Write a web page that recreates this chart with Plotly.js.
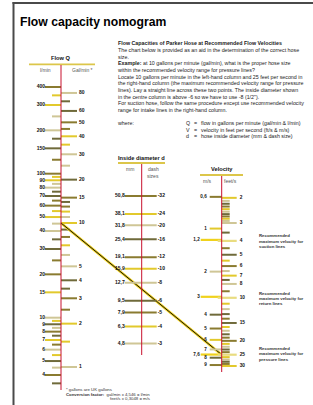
<!DOCTYPE html>
<html><head><meta charset="utf-8">
<script src="https://cdn.plot.ly/plotly-3.0.1.min.js"></script>
<style>html,body{margin:0;padding:0;background:#fff}#chart{width:313px;height:405px}</style>
</head><body><div id="chart"></div>
<script>
// ---------- data ----------
const flowLminLabeled = [400,300,200,150,100,90,80,70,60,50,40,30,20,15,10,9,8,7,6,5,4];
const flowLminMinor   = [350,250,175,125,95,85,75,65,55,45,35,25,9.5,8.5,7.5,6.5,5.5,4.5,3.5];
const flowGalLabeled  = [80,60,50,40,30,20,15,10,5,4,3,2,1];
const flowGalMinor    = [70,45,35,25,14,13,12,11,9,8,7,6,3.5,2.5,1.5];
const diamMm          = [50.8,38.1,31.8,25.4,19.1,15.9,12.7,9.5,7.9,6.3,4.8];
const diamMmLabels    = ['50,8','38,1','31,8','25,4','19,1','15,9','12,7','9,5','7,9','6,3','4,8'];
const diamDash        = ['-32','-24','-20','-16','-12','-10','-8','-6','-5','-4','-3'];
const velMsLabeled    = [0.6,1,1.2,2,3,4,5,6,7,7.6,8,9];
const velMsLabels     = ['0,6','1','1,2','2','3','4','5','6','7','7,6','8','9'];
const velFtsLabeled   = [2,3,4,5,6,7,8,10,15,20,25,30];
const velFtsMinor     = [2.1,2.2,2.3,2.4,2.5,2.6,2.7,2.8,2.9,3.5,4.5,5.5,6.5,7.5,9,11,12,13,14,16,17,18,19,21,22,23,24,26,27,28,29];
const recommendedMs   = [1.2,3,7.6];
const recommendedFts  = [4,10,25];
const exampleGal = 10;      // gal/min
const exampleFts = 25;      // feet/s
const GAL_TO_L = 4.546;
const FT_TO_M = 0.3048;

// ---------- axes (log ranges) ----------
const rangeQ = [0.3937, 3.2062];   // l/min
const rangeV = [1.7497, -1.0825];  // feet/s (reversed)
const rangeD = [0.2545, 3.0670];   // mm

const W = 313, H = 405;
const py = p => 1 - p / H;

const XQ = 61, XD = 141.7, XV = 221.7;
const pal = ['#8a7b30', '#e2c92c', '#cfc696', '#6f6a3a'];

const traces = [];
function segs(vals, x0, x1, yaxis, colorOffset, width) {
  const groups = pal.map(() => ({x: [], y: []}));
  vals.forEach((v, i) => {
    const g = groups[(i + colorOffset) % pal.length];
    g.x.push(x0, x1, null); g.y.push(v, v, null);
  });
  groups.forEach((g, k) => {
    if (!g.x.length) return;
    traces.push({type: 'scatter', mode: 'lines', x: g.x, y: g.y, yaxis: yaxis,
      line: {color: pal[k], width: width || 2}, hoverinfo: 'skip', showlegend: false});
  });
}
function labels(vals, txt, x, pos, yaxis, size) {
  traces.push({type: 'scatter', mode: 'text', x: vals.map(() => x), y: vals, text: txt,
    textposition: pos, yaxis: yaxis, cliponaxis: false,
    textfont: {family: 'Liberation Sans, Arial, sans-serif', size: size || 5, color: '#111', weight: 'bold'},
    hoverinfo: 'skip', showlegend: false});
}

// Flow Q column
segs(flowLminLabeled, XQ - 16, XQ, 'y', 0);
segs(flowLminMinor, XQ - 9, XQ, 'y', 1);
segs(flowGalLabeled.map(g => g * GAL_TO_L), XQ, XQ + 16, 'y', 2);
segs(flowGalMinor.map(g => g * GAL_TO_L), XQ, XQ + 9, 'y', 3);
labels(flowLminLabeled, flowLminLabeled.map(String), XQ - 16, 'middle left', 'y');
labels(flowGalLabeled.map(g => g * GAL_TO_L), flowGalLabeled.map(String), XQ + 18, 'middle right', 'y');

// Diameter column
segs(diamMm, XD - 17, XD + 15, 'y3', 0);
labels(diamMm, diamMmLabels, XD - 17, 'middle left', 'y3');
labels(diamMm, diamDash, XD + 16, 'middle right', 'y3');

// Velocity column
const isRec = m => recommendedMs.includes(m);
segs(velMsLabeled.filter(m => !isRec(m)).map(m => m / FT_TO_M), XV - 12, XV, 'y2', 0);
segs(velFtsLabeled.filter(f => !recommendedFts.includes(f)), XV, XV + 15, 'y2', 1);
segs(velFtsMinor, XV, XV + 8, 'y2', 2);
traces.push({type: 'scatter', mode: 'lines', yaxis: 'y2', hoverinfo: 'skip', showlegend: false,
  x: recommendedMs.flatMap(() => [XV - 21, XV, null]),
  y: recommendedMs.flatMap(m => [m / FT_TO_M, m / FT_TO_M, null]),
  line: {color: '#f0d21c', width: 2.2}});
traces.push({type: 'scatter', mode: 'lines', yaxis: 'y2', hoverinfo: 'skip', showlegend: false,
  x: recommendedFts.flatMap(() => [XV - 4, XV + 15, null]),
  y: recommendedFts.flatMap(f => [f, f, null]),
  line: {color: '#e9dc80', width: 2.2}});
const msIdxPlain = velMsLabeled.map((m, i) => i).filter(i => !isRec(velMsLabeled[i]));
const msIdxRec = velMsLabeled.map((m, i) => i).filter(i => isRec(velMsLabeled[i]));
labels(msIdxPlain.map(i => velMsLabeled[i] / FT_TO_M), msIdxPlain.map(i => velMsLabels[i]), XV - 15, 'middle left', 'y2', 4.6);
labels(msIdxRec.map(i => velMsLabeled[i] / FT_TO_M), msIdxRec.map(i => velMsLabels[i]), XV - 22, 'middle left', 'y2', 4.6);
labels(velFtsLabeled, velFtsLabeled.map(String), XV + 18, 'middle right', 'y2', 4.8);

// Example line: from Q (10 gal/min) to V (25 ft/s), expressed on the Q axis
const fracV = (Math.log10(exampleFts) - rangeV[0]) / (rangeV[1] - rangeV[0]);
const qEquiv = Math.pow(10, rangeQ[0] + fracV * (rangeQ[1] - rangeQ[0]));
const exLine = {x: [XQ, XV], y: [exampleGal * GAL_TO_L, qEquiv]};
traces.push({type: 'scatter', mode: 'lines', x: exLine.x, y: exLine.y, yaxis: 'y',
  line: {color: '#f2d21a', width: 2.6}, hoverinfo: 'skip', showlegend: false});
traces.push({type: 'scatter', mode: 'lines', x: exLine.x, y: exLine.y, yaxis: 'y',
  line: {color: '#111', width: 1}, hoverinfo: 'skip', showlegend: false});

// ---------- shapes ----------
const shapes = [
  {type: 'line', xref: 'x', yref: 'paper', x0: 13.5, x1: 13.5, y0: py(2), y1: py(405), line: {color: '#4a4a4a', width: 2}},
  {type: 'line', xref: 'x', yref: 'paper', x0: 12.5, x1: 313, y0: py(3), y1: py(3), line: {color: '#4a4a4a', width: 2}},
  {type: 'line', xref: 'x', yref: 'paper', x0: 29, x1: 95, y0: py(64.3), y1: py(64.3), line: {color: '#dcc64a', width: 1.8}},
  {type: 'line', xref: 'x', yref: 'paper', x0: 118, x1: 165, y0: py(163), y1: py(163), line: {color: '#dcc64a', width: 1.8}},
  {type: 'line', xref: 'x', yref: 'paper', x0: 200, x1: 243, y0: py(175), y1: py(175), line: {color: '#dcc64a', width: 1.8}},
  {type: 'line', xref: 'x', yref: 'paper', x0: XQ, x1: XQ, y0: py(65), y1: py(390), line: {color: '#c8102e', width: 1}, layer: 'above'},
  {type: 'line', xref: 'x', yref: 'paper', x0: XD, x1: XD, y0: py(164), y1: py(355), line: {color: '#c8102e', width: 1}, layer: 'above'},
  {type: 'line', xref: 'x', yref: 'paper', x0: XV, x1: XV, y0: py(176), y1: py(372), line: {color: '#c8102e', width: 1}, layer: 'above'}
];

// ---------- annotations ----------
const F = 'Liberation Sans, Arial, sans-serif';
const ann = [];
function A(text, x, y, size, opts) {
  ann.push(Object.assign({text: text, xref: 'x', yref: 'paper', x: x, y: py(y), xanchor: 'left', yanchor: 'middle',
    showarrow: false, borderpad: 0, font: {family: F, size: size, color: '#222'}}, opts || {}));
}
A('<b>Flow capacity nomogram</b>', 19, 22, 12.2, {font: {family: F, size: 12.2, color: '#000'}});
const bodyLines = [
  ['<b>Flow Capacities of Parker Hose at Recommended Flow Velocities</b>', 43.5],
  ['The chart below is provided as an aid in the determination of the correct hose', 50],
  ['size.', 56.5],
  ['<b>Example:</b> at 10 gallons per minute (gal/min), what is the proper hose size', 63.3],
  ['within the recommended velocity range for pressure lines?', 69.8],
  ['Locate 10 gallons per minute in the left-hand column and 25 feet per second in', 76.5],
  ['the right-hand column (the maximum recommended velocity range for pressure', 83.2],
  ['lines). Lay a straight line across these two points. The inside diameter shown', 89.9],
  ['in the centre column is above -6 so we have to use -8 (1/2").', 96.6],
  ['For suction hose, follow the same procedure except use recommended velocity', 103.3],
  ['range for intake lines in the right-hand column.', 110]
];
bodyLines.forEach(l => A(l[0], 117, l[1], 5.3));
A('where:', 117, 123.3, 5.3);
[['Q', 'flow in gallons per minute (gal/min & l/min)', 123.3],
 ['V', 'velocity in feet per second (ft/s & m/s)', 129.5],
 ['d', 'hose inside diameter (mm & dash size)', 135.7]].forEach(r => {
  A(r[0], 185, r[2], 5.3); A('=', 193, r[2], 5.3); A(r[1], 200, r[2], 5.3);
});

A('<b>Flow Q</b>', XQ, 58, 5.7, {xanchor: 'center', font: {family: F, size: 5.7, color: '#111'}});
A('l/min', 45, 70, 5, {xanchor: 'center', font: {family: F, size: 5, color: '#555'}});
A('Gal/min *', 82, 70, 5, {xanchor: 'center', font: {family: F, size: 5, color: '#555'}});
A('<b>Inside diameter d</b>', XD, 158, 5.7, {xanchor: 'center', font: {family: F, size: 5.7, color: '#111'}});
A('mm', 130, 168.5, 5, {xanchor: 'center', font: {family: F, size: 5, color: '#555'}});
A('dash', 153, 168.5, 5, {xanchor: 'center', font: {family: F, size: 5, color: '#555'}});
A('sizes', 153, 175.5, 5, {xanchor: 'center', font: {family: F, size: 5, color: '#555'}});
A('<b>Velocity</b>', XV, 168.5, 5.7, {xanchor: 'center', font: {family: F, size: 5.7, color: '#111'}});
A('m/s', 207, 181, 5, {xanchor: 'center', font: {family: F, size: 5, color: '#555'}});
A('feet/s', 230, 181, 5, {xanchor: 'center', font: {family: F, size: 5, color: '#555'}});

const recNotes = [
  ['Recommended', 'maximum velocity for', 'suction lines', 235.7],
  ['Recommended', 'maximum velocity for', 'return lines', 293.3],
  ['Recommended', 'maximum velocity for', 'pressure lines', 348.5]
];
recNotes.forEach(r => {
  [0, 1, 2].forEach(k => A('<b>' + r[k] + '</b>', 258, r[3] + k * 5.3, 4.3, {font: {family: F, size: 4.3, color: '#333'}}));
});

A('* gallons are UK gallons', 65, 389.5, 4.3, {font: {family: F, size: 4.3, color: '#333'}});
A('<b>Conversion factor:</b>  gal/min x 4,546 = l/min', 65, 394, 4.3, {font: {family: F, size: 4.3, color: '#333'}});
A('feet/s x 0,3048 = m/s', 109, 398.5, 4.3, {font: {family: F, size: 4.3, color: '#333'}});

const hidden = {visible: false, fixedrange: true, showgrid: false, zeroline: false};
const layout = {
  width: W, height: H, margin: {l: 0, r: 0, t: 0, b: 0},
  paper_bgcolor: '#fff', plot_bgcolor: '#fff', showlegend: false,
  xaxis: Object.assign({range: [0, W]}, hidden),
  yaxis: Object.assign({type: 'log', range: rangeQ}, hidden),
  yaxis2: Object.assign({type: 'log', range: rangeV, overlaying: 'y'}, hidden),
  yaxis3: Object.assign({type: 'log', range: rangeD, overlaying: 'y'}, hidden),
  shapes: shapes, annotations: ann
};
Plotly.newPlot('chart', traces, layout, {staticPlot: true, displayModeBar: false});
</script></body></html>
